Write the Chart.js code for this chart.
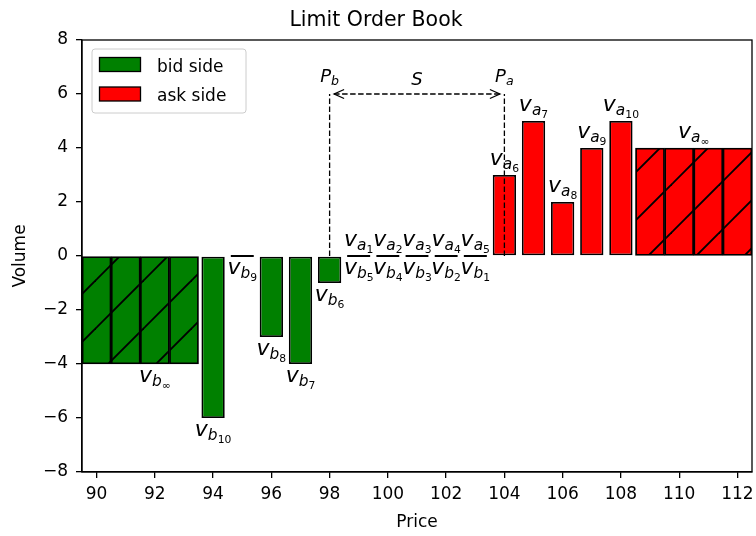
<!DOCTYPE html>
<html><head><meta charset="utf-8">
<script src="https://cdn.jsdelivr.net/npm/chart.js@4.4.0/dist/chart.umd.min.js"></script>
<style>html,body{margin:0;padding:0;background:#fff}#wrap{width:756px;height:536px}</style>
</head><body><div id="wrap"><canvas id="c" width="756" height="536"></canvas></div>
<script>
// ---- data ----
const bidDeepPrices = [90, 91, 92, 93];
const bidDeepVolumes = [-4, -4, -4, -4];
const bidPrices = [94, 95, 96, 97, 98];
const bidVolumes = [-6, 0, -3, -4, -1];
const askPrices = [99, 100, 101, 102, 103, 104, 105, 106, 107, 108];
const askVolumes = [0, 0, 0, 0, 0, 3, 5, 2, 4, 5];
const askDeepPrices = [109, 110, 111, 112];
const askDeepVolumes = [4, 4, 4, 4];
const xTicks = [90, 92, 94, 96, 98, 100, 102, 104, 106, 108, 110, 112];
const yTicks = [-8, -6, -4, -2, 0, 2, 4, 6, 8];
const bestBid = 98, bestAsk = 104, spreadLevel = 6;
const labelPrices = [92, 94, 95, 96, 97, 98, 99, 100, 101, 102, 103, 99, 100, 101, 102, 103, 104, 105, 106, 107, 108, 110.5];
const labelVolumes = [-4, -6, 0, -3, -4, -1, 0, 0, 0, 0, 0, 0, 0, 0, 0, 0, 3, 5, 2, 4, 5, 4];
const labelSides = ['b','b','b','b','b','b','b','b','b','b','b','a','a','a','a','a','a','a','a','a','a','a'];
const labelLevels = ['∞','10','9','8','7','6','5','4','3','2','1','1','2','3','4','5','6','7','8','9','10','∞'];
const legendLabels = ['bid side', 'ask side'];

const FAM = '"DejaVu Sans", sans-serif';
Chart.defaults.font.family = FAM;
Chart.defaults.color = '#000';

function hatch(color) {
  const s = 48, c = document.createElement('canvas');
  c.width = s; c.height = s;
  const g = c.getContext('2d');
  g.fillStyle = color; g.fillRect(0, 0, s, s);
  g.strokeStyle = '#000'; g.lineWidth = 1.9;
  for (const cc of [-8, 40, 88]) {
    g.beginPath(); g.moveTo(-10, cc + 10); g.lineTo(cc + 10, -10); g.stroke();
  }
  return g.createPattern(c, 'repeat');
}
const GREEN = '#008000', RED = '#ff0000';
const pts = (xs, ys) => xs.map((x, i) => ({x: x, y: ys[i]}));
const barBase = {borderColor: '#000', borderWidth: 1.8, borderSkipped: false, grouped: false, categoryPercentage: 1};

function drawRuns(ctx, runs, cx, by) {
  let total = 0;
  const ws = runs.map(r => { ctx.font = (r.it ? 'italic ' : '') + r.s + 'px ' + FAM; const w = ctx.measureText(r.t).width; total += w; return w; });
  let x = cx - total / 2;
  ctx.textAlign = 'left'; ctx.textBaseline = 'alphabetic'; ctx.fillStyle = '#000';
  runs.forEach((r, i) => { ctx.font = (r.it ? 'italic ' : '') + r.s + 'px ' + FAM; ctx.fillText(r.t, x, by + r.dy); x += ws[i]; });
}
function vRuns(side, lvl) {
  const s = 22;
  return [{t: 'v', s: s, it: true, dy: 0}, {t: side, s: s * 0.7, it: true, dy: s * 0.2}, {t: lvl, s: s * 0.49, it: false, dy: s * 0.2 + s * 0.7 * 0.2}];
}

const annot = {
  id: 'annot',
  afterDatasetsDraw(chart) {
    const ctx = chart.ctx, xs = chart.scales.x, ys = chart.scales.y, a = chart.chartArea;
    ctx.save();
    ctx.strokeStyle = '#000'; ctx.lineWidth = 1.3; ctx.setLineDash([5.5, 2.5]);
    const xb = xs.getPixelForValue(bestBid), xa = xs.getPixelForValue(bestAsk);
    const y0 = ys.getPixelForValue(0), yt = ys.getPixelForValue(spreadLevel);
    for (const xx of [xb, xa]) { ctx.beginPath(); ctx.moveTo(xx, y0); ctx.lineTo(xx, yt); ctx.stroke(); }
    const l = xb + 4.5, r = xa - 4.5;
    ctx.beginPath(); ctx.moveTo(l, yt); ctx.lineTo(r, yt); ctx.stroke();
    ctx.setLineDash([]);
    ctx.beginPath(); ctx.moveTo(l + 10, yt - 4.5); ctx.lineTo(l, yt); ctx.lineTo(l + 10, yt + 4.5); ctx.stroke();
    ctx.beginPath(); ctx.moveTo(r - 10, yt - 4.5); ctx.lineTo(r, yt); ctx.lineTo(r - 10, yt + 4.5); ctx.stroke();
    drawRuns(ctx, [{t: 'P', s: 18, it: true, dy: 0}, {t: 'b', s: 12.6, it: true, dy: 3}], xb, yt - 12);
    drawRuns(ctx, [{t: 'P', s: 18, it: true, dy: 0}, {t: 'a', s: 12.6, it: true, dy: 3}], xa, yt - 12);
    drawRuns(ctx, [{t: 'S', s: 18, it: true, dy: 0}], xs.getPixelForValue((bestBid + bestAsk) / 2), yt - 9);
    labelPrices.forEach((p, i) => {
      const px = xs.getPixelForValue(p), py = ys.getPixelForValue(labelVolumes[i]);
      const above = labelSides[i] === 'a';
      drawRuns(ctx, vRuns(labelSides[i], labelLevels[i]), px, above ? py - 10 : py + 17.5);
    });
    const lx = a.left + 10, ly = a.top + 9;
    ctx.fillStyle = 'rgba(255,255,255,0.8)'; ctx.strokeStyle = '#cccccc'; ctx.lineWidth = 1;
    ctx.beginPath(); ctx.roundRect(lx, ly, 154, 64, 3); ctx.fill(); ctx.stroke();
    const cols = [GREEN, RED];
    legendLabels.forEach((t, i) => {
      const sy = ly + 8.5 + i * 29.5;
      ctx.fillStyle = cols[i]; ctx.fillRect(lx + 7.5, sy, 41, 14);
      ctx.strokeStyle = '#000'; ctx.lineWidth = 1.3; ctx.strokeRect(lx + 7.5, sy, 41, 14);
      ctx.fillStyle = '#000'; ctx.font = '17px ' + FAM; ctx.textAlign = 'left'; ctx.textBaseline = 'alphabetic';
      ctx.fillText(t, lx + 65, sy + 14);
    });
    ctx.strokeStyle = '#000'; ctx.lineWidth = 1.3;
    ctx.strokeRect(a.left, a.top, a.right - a.left, a.bottom - a.top);
    ctx.restore();
  }
};

new Chart(document.getElementById('c'), {
  type: 'bar',
  data: {
    datasets: [
      Object.assign({label: 'bid side', data: pts(bidPrices, bidVolumes), backgroundColor: GREEN, barPercentage: 0.8, minBarLength: 2}, barBase),
      Object.assign({label: 'bid side (deep)', data: pts(bidDeepPrices, bidDeepVolumes), backgroundColor: hatch(GREEN), barPercentage: 1}, barBase),
      Object.assign({label: 'ask side', data: pts(askPrices, askVolumes), backgroundColor: RED, barPercentage: 0.8, minBarLength: 2}, barBase),
      Object.assign({label: 'ask side (deep)', data: pts(askDeepPrices, askDeepVolumes), backgroundColor: hatch(RED), barPercentage: 1}, barBase)
    ]
  },
  options: {
    responsive: false, animation: false, devicePixelRatio: 1,
    layout: {padding: {left: 0, right: 4, top: 0, bottom: 0}},
    plugins: {
      legend: {display: false}, tooltip: {enabled: false},
      title: {display: true, text: 'Limit Order Book', color: '#000', font: {size: 20.5, weight: 'normal'}, padding: {top: 8, bottom: 7.4}}
    },
    scales: {
      x: {
        type: 'linear', min: 89.5, max: 112.5, offset: false,
        afterBuildTicks: s => { s.ticks = xTicks.map(v => ({value: v})); },
        afterFit: s => { s.height = 64; s.paddingLeft = 0; s.paddingRight = 0; },
        ticks: {color: '#000', font: {size: 17}, padding: 6, maxRotation: 0, autoSkip: false, callback: v => String(v)},
        grid: {offset: false, drawOnChartArea: false, drawTicks: true, tickLength: 6, color: '#000', lineWidth: 1.3},
        border: {display: true, color: '#000', width: 1.3},
        title: {display: true, text: 'Price', color: '#000', font: {size: 17}, padding: {top: 0, bottom: 3}}
      },
      y: {
        min: -8, max: 8,
        afterBuildTicks: s => { s.ticks = yTicks.map(v => ({value: v})); },
        afterFit: s => { s.width = 82; s.paddingTop = 0; s.paddingBottom = 0; },
        ticks: {color: '#000', font: {size: 17}, padding: 8, callback: v => String(v).replace('-', '\u2212')},
        grid: {drawOnChartArea: false, drawTicks: true, tickLength: 6, color: '#000', lineWidth: 1.3},
        border: {display: true, color: '#000', width: 1.3},
        title: {display: true, text: 'Volume', color: '#000', font: {size: 17}, padding: {top: 10, bottom: 0}}
      }
    }
  },
  plugins: [annot]
});
</script></body></html>
